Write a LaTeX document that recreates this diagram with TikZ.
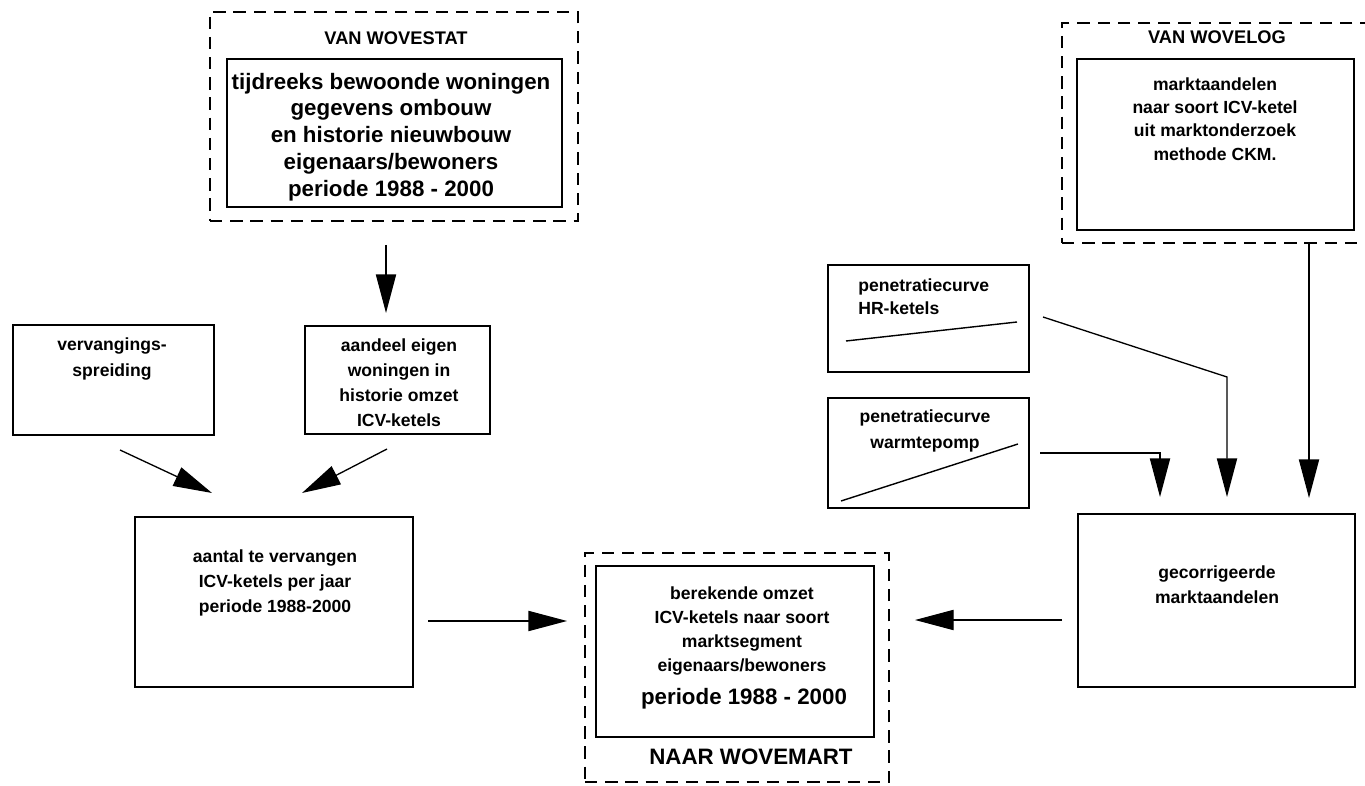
\documentclass[tikz,border=0pt]{standalone}
\usepackage{fontspec}
\setmainfont{Liberation Sans}
\usetikzlibrary{arrows.meta,fit}
\begin{document}
\begin{tikzpicture}[x=0.02cm,y=-0.02cm,
  box/.style={draw,line width=1.1pt,inner sep=0pt,fit={#1}},
  dbox/.style={draw,line width=0.9pt,dash pattern=on 7pt off 4.5pt,inner sep=0pt,fit={#1}},
  txt/.style={align=center,font=\bfseries\fontsize{10}{14.2}\selectfont,inner sep=0pt},
  big/.style={align=center,font=\bfseries\fontsize{12.7}{15.3}\selectfont,inner sep=0pt},
  ttl/.style={font=\bfseries\fontsize{10.4}{12}\selectfont,inner sep=0pt},
  arr/.style={line width=0.75pt,-{Triangle[length=22pt,width=11.5pt]}},
  curve/.style={line width=0.8pt}
]
\clip (0,0) rectangle (1365,786);
\fill[white] (0,0) rectangle (1365,786);

% WOVESTAT
\node[dbox={(210,12) (578,221)}] (wsd) {};
\node[box={(227,59) (562,207)}] (ws) {};
\node[ttl] (wst) at (396,38) {VAN WOVESTAT};
\node[big] (wstx) at (391,137) {tijdreeks bewoonde woningen\\gegevens ombouw\\en historie nieuwbouw\\eigenaars/bewoners\\periode 1988 - 2000};

% WOVELOG
\node[dbox={(1062,23) (1380,243)}] (wld) {};
\node[box={(1077,59) (1354,230)}] (wl) {};
\node[ttl] (wlt) at (1217,37) {VAN WOVELOG};
\node[txt,font=\bfseries\fontsize{10}{13.2}\selectfont] (wltx) at (1215,119) {marktaandelen\\naar soort ICV-ketel\\uit marktonderzoek\\methode CKM.};

% penetratiecurves
\node[box={(828,265) (1029,372)}] (hr) {};
\node[txt,align=left,anchor=west,font=\bfseries\fontsize{10}{13}\selectfont] (hrtx) at (858,297) {penetratiecurve\\HR-ketels};
\draw[curve] (846,341) -- (1017,322);
\node[box={(828,398) (1029,508)}] (wp) {};
\node[txt,font=\bfseries\fontsize{10}{14.5}\selectfont] (wptx) at (925,431) {penetratiecurve\\warmtepomp};
\draw[curve] (841,501) -- (1018,444);

% left column
\node[box={(13,325) (214,435)}] (vs) {};
\node[txt,font=\bfseries\fontsize{10}{15}\selectfont] (vstx) at (112,359) {vervangings-\\spreiding};
\node[box={(305,326) (490,434)}] (ae) {};
\node[txt] (aetx) at (399,383) {aandeel eigen\\woningen in\\historie omzet\\ICV-ketels};
\node[box={(135,517) (413,687)}] (at) {};
\node[txt] (attx) at (275,583) {aantal te vervangen\\ICV-ketels per jaar\\periode 1988-2000};

% NAAR WOVEMART
\node[dbox={(585,553) (889,782)}] (nwd) {};
\node[box={(596,566) (874,737)}] (nw) {};
\node[txt,font=\bfseries\fontsize{10}{13.7}\selectfont] (nwtx) at (742,631) {berekende omzet\\ICV-ketels naar soort\\marktsegment\\eigenaars/bewoners};
\node[big] (nwp) at (744,699) {periode 1988 - 2000};
\node[font=\bfseries\fontsize{12.7}{15}\selectfont,inner sep=0pt] (nwt) at (751,757) {NAAR WOVEMART};

% gecorrigeerde
\node[box={(1078,514) (1355,687)}] (gc) {};
\node[txt] (gctx) at (1217,585) {gecorrigeerde\\marktaandelen};

% arrow end points
\coordinate (a1s) at (386,245); \coordinate (a1e) at (386,313);
\coordinate (a2s) at (120,450); \coordinate (a2e) at (212,493);
\coordinate (a3s) at (387,449); \coordinate (a3e) at (302,493);
\coordinate (a4s) at (428,621); \coordinate (a4e) at (567,621);
\coordinate (a5s) at (1062,620); \coordinate (a5e) at (915,620);
\coordinate (a6s) at (1309,243); \coordinate (a6e) at (1309,498);
\coordinate (a7s) at (1043,317); \coordinate (a7b) at (1227,377); \coordinate (a7e) at (1227,497);
\coordinate (a8s) at (1040,453); \coordinate (a8b) at (1160,453); \coordinate (a8e) at (1160,497);

\draw[arr] (a1s) -- (a1e);
\draw[arr] (a2s) -- (a2e);
\draw[arr] (a3s) -- (a3e);
\draw[arr] (a4s) -- (a4e);
\draw[arr] (a5s) -- (a5e);
\draw[arr] (a6s) -- (a6e);
\draw[arr] (a7s) -- (a7b) -- (a7e);
\draw[arr] (a8s) -- (a8b) -- (a8e);
\end{tikzpicture}
\end{document}
